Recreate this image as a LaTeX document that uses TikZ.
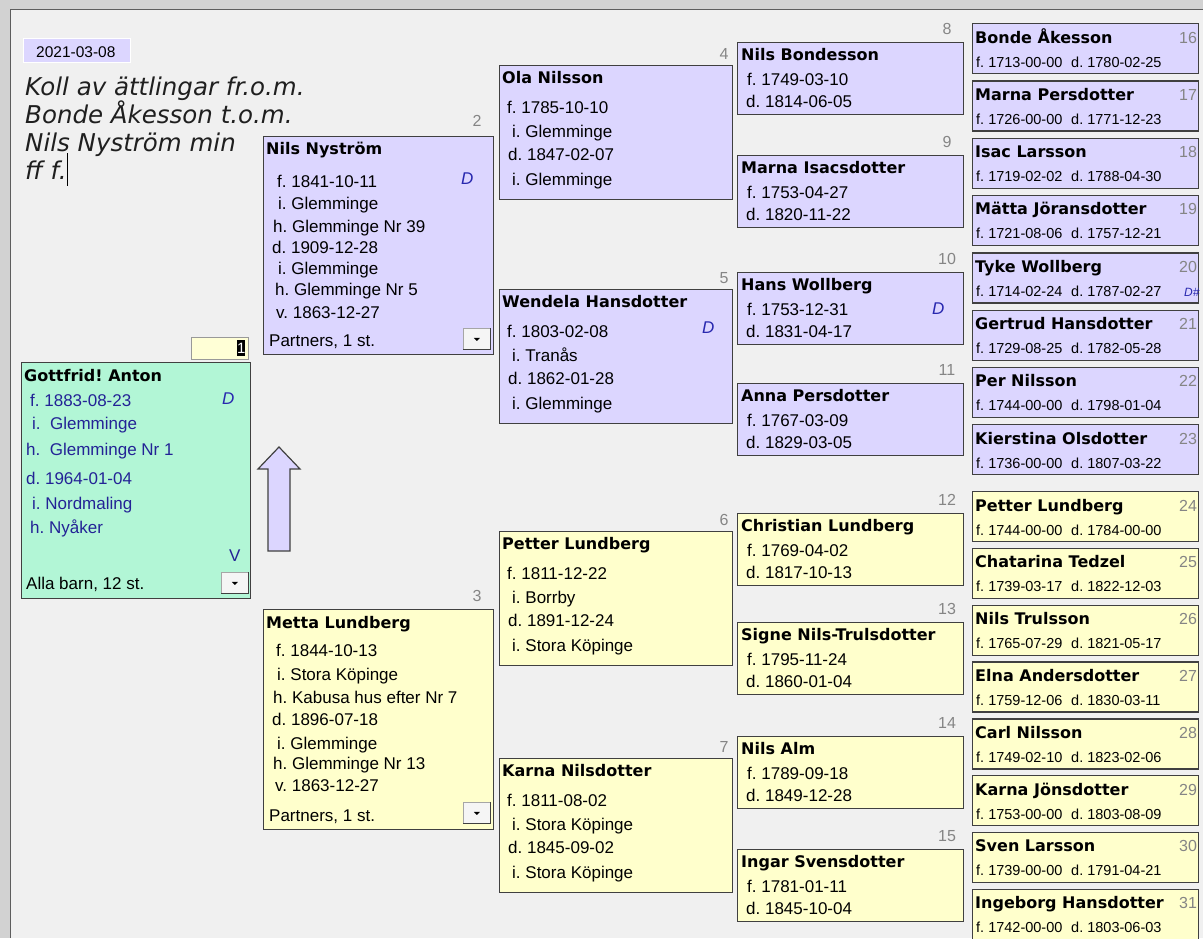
\documentclass[tikz,border=0pt]{standalone}
\usepackage{fontspec}
\setmainfont{Liberation Sans}
\newfontfamily\djv{DejaVu Sans}[ItalicFont={DejaVu Sans Oblique},BoldFont={DejaVu Sans Bold}]
\usetikzlibrary{calc}
\definecolor{bgc}{HTML}{F0F0F0}
\definecolor{bandc}{HTML}{D2D2D2}
\definecolor{lav}{HTML}{DCD6FF}
\definecolor{yel}{HTML}{FFFFCC}
\definecolor{mint}{HTML}{B2F6D6}
\definecolor{edgec}{HTML}{404040}
\definecolor{navy}{RGB}{35,35,150}
\definecolor{dblue}{RGB}{40,40,175}
\definecolor{numgray}{HTML}{858585}
\definecolor{fieldc}{HTML}{FFFFD6}
\tikzset{
  box/.style={draw=edgec, line width=1.3pt, inner sep=0pt, anchor=north west},
  lavbox/.style={box, fill=lav},
  yelbox/.style={box, fill=yel},
  mintbox/.style={box, fill=mint},
  nm/.style={font=\frenchspacing\djv\bfseries\fontsize{16}{19}\selectfont, text=black, inner sep=0pt, anchor=base west},
  dat/.style={font=\frenchspacing\fontsize{17}{20}\selectfont, text=black, inner sep=0pt, anchor=base west},
  bdat/.style={dat, text=navy},
  sdat/.style={font=\frenchspacing\fontsize{14.5}{17}\selectfont, text=black, inner sep=0pt, anchor=base west},
  numst/.style={font=\fontsize{16}{19}\selectfont, text=numgray, inner sep=0pt, anchor=base},
  dmark/.style={font=\fontsize{17}{20}\selectfont\itshape, text=dblue, inner sep=0pt, anchor=base west},
  hdr/.style={font=\frenchspacing\djv\itshape\fontsize{24.5}{28}\selectfont, text=black!88, inner sep=0pt, anchor=base west},
  btn/.style={fill=black!4, draw=black!35, line width=0.8pt, inner sep=0pt, anchor=north west, minimum width=27pt, minimum height=21pt},
}
\newcommand\ddbtn[3]{%
  \node[btn] (#1) at (#2,#3) {};
  \draw[edgec, line width=1pt] (#1.south west) -| (#1.north east);
  \fill[black] ($(#1.center)+(-3,-1)$) -- ++(6,0) -- ++(-3,3) -- cycle;
}
% column 3 box: id, top, style, name, num, four data lines
\newcommand\cthree[9]{%
  \node[#3, minimum width=233pt, minimum height=134pt] (#1) at (499,#2) {};
  \node[numst] (#1k) at ($(#1.north west)+(225,-5.5)$) {#5};
  \node[nm] (#1n) at ($(#1.north west)+(3,18.5)$) {#4};
  \node[dat] (#1a) at ($(#1.north west)+(8,48)$) {#6};
  \node[dat] (#1b) at ($(#1.north west)+(13,72)$) {#7};
  \node[dat] (#1c) at ($(#1.north west)+(9,95.5)$) {#8};
  \node[dat] (#1d) at ($(#1.north west)+(13,120)$) {#9};
}
% column 4 box: id, top, style, name, num, f, d
\newcommand\cfour[7]{%
  \node[#3, minimum width=226pt, minimum height=72pt] (#1) at (737,#2) {};
  \node[numst] (#1k) at ($(#1.north west)+(210,-8)$) {#5};
  \node[nm] (#1n) at ($(#1.north west)+(4,18)$) {#4};
  \node[dat] (#1a) at ($(#1.north west)+(10,43)$) {f. #6};
  \node[dat] (#1b) at ($(#1.north west)+(9,65)$) {d. #7};
}
% column 5 box: id, top, style, name, num, f, d
\newcommand\cfive[7]{%
  \node[#3, minimum width=226pt, minimum height=50pt] (#1) at (972,#2) {};
  \node[nm] (#1n) at ($(#1.north west)+(3,20)$) {#4};
  \node[numst] (#1k) at ($(#1.north west)+(216,20)$) {#5};
  \node[sdat] (#1a) at ($(#1.north west)+(4,44)$) {f. #6};
  \node[sdat] (#1b) at ($(#1.north west)+(99,44)$) {d. #7};
}
\begin{document}
\begin{tikzpicture}[x=1pt,y=-1pt]
\useasboundingbox (0,0) rectangle (1203,938);
\fill[bgc] (0,0) rectangle (1203,938);
\fill[bandc] (0,0) rectangle (1203,8.5);
\fill[bandc] (0,0) rectangle (9.5,938);
\draw[edgec!85, line width=1.5pt] (10.5,938) -- (10.5,9.5) -- (1203,9.5);

% date label and heading
\node[fill=lav, draw=white, line width=0.8pt, inner sep=0pt, anchor=north west, minimum width=107pt, minimum height=24pt] (datebox) at (23,38) {};
\node[font=\fontsize{15.5}{18}\selectfont, inner sep=0pt, anchor=base west] (datetxt) at (36,57) {2021-03-08};
\node[hdr] (h1) at (25,95) {Koll av ättlingar fr.o.m.};
\node[hdr] (h2) at (25,123) {Bonde Åkesson t.o.m.};
\node[hdr] (h3) at (25,151) {Nils Nyström min};
\node[hdr] (h4) at (25,179) {ff f.};
\coordinate (curtop) at (67,153);
\coordinate (curbot) at (67,186);
\draw[black, line width=1pt] (curtop) -- (curbot);

% main person
\node[fill=fieldc, draw=black!40, line width=0.8pt, inner sep=0pt, anchor=north west, minimum width=57pt, minimum height=22pt] (field) at (191,337) {};
\node[fill=black, inner sep=0pt, anchor=north west, minimum width=8pt, minimum height=16pt] (sel) at (237,340) {};
\node[font=\fontsize{15}{18}\selectfont, text=white, inner sep=0pt, anchor=center] (seltxt) at (sel.center) {1};
\node[mintbox, minimum width=229pt, minimum height=236pt] (b1) at (21,362) {};
\node[nm] (b1n) at (24,381) {Gottfrid! Anton};
\node[bdat] (b1a) at (30,406) {f. 1883-08-23};
\node[dmark] (b1D) at (222,404) {D};
\node[bdat] (b1b) at (32,429) {i.\ \ Glemminge};
\node[bdat] (b1c) at (26,455) {h.\ \ Glemminge Nr 1};
\node[bdat] (b1d) at (26,484) {d. 1964-01-04};
\node[bdat] (b1e) at (32,509) {i. Nordmaling};
\node[bdat] (b1f) at (30,533) {h. Nyåker};
\node[bdat] (b1V) at (229,561) {V};
\node[dat] (b1g) at (26,589) {Alla barn, 12 st.};
\ddbtn{b1btn}{221}{572}

% arrow
\draw[fill=lav, draw=edgec, line width=1.2pt, line join=miter] (279,447) -- (300,469) -- (290,469) -- (290,551) -- (268,551) -- (268,469) -- (258,469) -- cycle;

% father 2
\node[numst] (b2k) at (477,126) {2};
\node[lavbox, minimum width=230pt, minimum height=218pt] (b2) at (263,136) {};
\node[nm] (b2n) at (266,154) {Nils Nyström};
\node[dat] (b2a) at (277,187) {f. 1841-10-11};
\node[dmark] (b2D) at (461,184) {D};
\node[dat] (b2b) at (278,209) {i. Glemminge};
\node[dat] (b2c) at (273,232) {h. Glemminge Nr 39};
\node[dat] (b2d) at (272,253) {d. 1909-12-28};
\node[dat] (b2e) at (278,274) {i. Glemminge};
\node[dat] (b2f) at (275,295) {h. Glemminge Nr 5};
\node[dat] (b2g) at (276,318) {v. 1863-12-27};
\node[dat] (b2h) at (269,346) {Partners, 1 st.};
\ddbtn{b2btn}{463}{328}

% mother 3
\node[numst] (b3k) at (477,601) {3};
\node[yelbox, minimum width=230pt, minimum height=220pt] (b3) at (263,609) {};
\node[nm] (b3n) at (266,628) {Metta Lundberg};
\node[dat] (b3a) at (276,656) {f. 1844-10-13};
\node[dat] (b3b) at (277,680) {i. Stora Köpinge};
\node[dat] (b3c) at (273,703) {h. Kabusa hus efter Nr 7};
\node[dat] (b3d) at (272,725) {d. 1896-07-18};
\node[dat] (b3e) at (277,749) {i. Glemminge};
\node[dat] (b3f) at (273,769) {h. Glemminge Nr 13};
\node[dat] (b3g) at (275,791) {v. 1863-12-27};
\node[dat] (b3h) at (269,821) {Partners, 1 st.};
\ddbtn{b3btn}{463}{802}

% column 3
\cthree{b4}{65}{lavbox}{Ola Nilsson}{4}{f. 1785-10-10}{i. Glemminge}{d. 1847-02-07}{i. Glemminge}
\cthree{b5}{289}{lavbox}{Wendela Hansdotter}{5}{f. 1803-02-08}{i. Tranås}{d. 1862-01-28}{i. Glemminge}
\node[dmark] (b5D) at (702,333) {D};
\cthree{b6}{531}{yelbox}{Petter Lundberg}{6}{f. 1811-12-22}{i. Borrby}{d. 1891-12-24}{i. Stora Köpinge}
\cthree{b7}{758}{yelbox}{Karna Nilsdotter}{7}{f. 1811-08-02}{i. Stora Köpinge}{d. 1845-09-02}{i. Stora Köpinge}

% column 4
\cfour{b8}{42}{lavbox}{Nils Bondesson}{8}{1749-03-10}{1814-06-05}
\cfour{b9}{155}{lavbox}{Marna Isacsdotter}{9}{1753-04-27}{1820-11-22}
\cfour{b10}{272}{lavbox}{Hans Wollberg}{10}{1753-12-31}{1831-04-17}
\node[dmark] (b10D) at (932,314) {D};
\cfour{b11}{383}{lavbox}{Anna Persdotter}{11}{1767-03-09}{1829-03-05}
\cfour{b12}{513}{yelbox}{Christian Lundberg}{12}{1769-04-02}{1817-10-13}
\cfour{b13}{622}{yelbox}{Signe Nils-Trulsdotter}{13}{1795-11-24}{1860-01-04}
\cfour{b14}{736}{yelbox}{Nils Alm}{14}{1789-09-18}{1849-12-28}
\cfour{b15}{849}{yelbox}{Ingar Svensdotter}{15}{1781-01-11}{1845-10-04}

% column 5
\cfive{b16}{23}{lavbox}{Bonde Åkesson}{16}{1713-00-00}{1780-02-25}
\cfive{b17}{80.3}{lavbox}{Marna Persdotter}{17}{1726-00-00}{1771-12-23}
\cfive{b18}{137.6}{lavbox}{Isac Larsson}{18}{1719-02-02}{1788-04-30}
\cfive{b19}{194.9}{lavbox}{Mätta Jöransdotter}{19}{1721-08-06}{1757-12-21}
\cfive{b20}{252.2}{lavbox}{Tyke Wollberg}{20}{1714-02-24}{1787-02-27}
\node[dmark, font=\fontsize{12}{14}\selectfont\itshape] (b20D) at (1184,296) {D\#};
\cfive{b21}{309.5}{lavbox}{Gertrud Hansdotter}{21}{1729-08-25}{1782-05-28}
\cfive{b22}{366.8}{lavbox}{Per Nilsson}{22}{1744-00-00}{1798-01-04}
\cfive{b23}{424.1}{lavbox}{Kierstina Olsdotter}{23}{1736-00-00}{1807-03-22}
\cfive{b24}{491}{yelbox}{Petter Lundberg}{24}{1744-00-00}{1784-00-00}
\cfive{b25}{547.8}{yelbox}{Chatarina Tedzel}{25}{1739-03-17}{1822-12-03}
\cfive{b26}{604.6}{yelbox}{Nils Trulsson}{26}{1765-07-29}{1821-05-17}
\cfive{b27}{661.4}{yelbox}{Elna Andersdotter}{27}{1759-12-06}{1830-03-11}
\cfive{b28}{718.2}{yelbox}{Carl Nilsson}{28}{1749-02-10}{1823-02-06}
\cfive{b29}{775}{yelbox}{Karna Jönsdotter}{29}{1753-00-00}{1803-08-09}
\cfive{b30}{831.8}{yelbox}{Sven Larsson}{30}{1739-00-00}{1791-04-21}
\cfive{b31}{888.6}{yelbox}{Ingeborg Hansdotter}{31}{1742-00-00}{1803-06-03}
\end{tikzpicture}
\end{document}
